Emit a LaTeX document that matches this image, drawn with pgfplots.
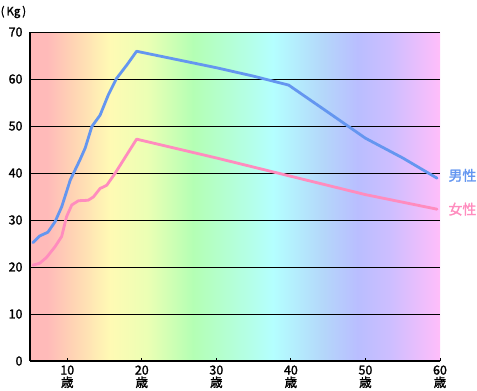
\documentclass[border=0pt]{standalone}
\usepackage{pgfplots}
\pgfplotsset{compat=1.18}
\usepackage{fontspec}
\setmainfont{Noto Sans CJK JP}[FakeBold=1.5]
\definecolor{maleblue}{RGB}{100,150,240}
\definecolor{femalepink}{RGB}{255,140,190}
\definecolor{c0}{RGB}{255,185,185}
\definecolor{c1}{RGB}{255,186,185}
\definecolor{c2}{RGB}{255,212,180}
\definecolor{c3}{RGB}{255,250,180}
\definecolor{c4}{RGB}{235,255,180}
\definecolor{c5}{RGB}{180,255,180}
\definecolor{c6}{RGB}{180,255,220}
\definecolor{c7}{RGB}{180,255,255}
\definecolor{c8}{RGB}{180,215,250}
\definecolor{c9}{RGB}{185,190,255}
\definecolor{c10}{RGB}{205,190,255}
\definecolor{c11}{RGB}{255,190,250}
\pgfdeclarehorizontalshading{rainbow}{100bp}{color(0bp)=(c0); color(25bp)=(c0); color(27.1bp)=(c1); color(30.3bp)=(c2); color(34.7bp)=(c3); color(39.3bp)=(c4); color(44.9bp)=(c5); color(50.3bp)=(c6); color(54.6bp)=(c7); color(60.7bp)=(c8); color(64.9bp)=(c9); color(68.9bp)=(c10); color(75bp)=(c11); color(100bp)=(c11)}
\begin{document}
\begin{tikzpicture}
\begin{axis}[
  scale only axis,
  width=410bp, height=329bp,
  xmin=5, xmax=60, ymin=0, ymax=70,
  axis background/.style={shading=rainbow},
  axis x line*=bottom, axis y line*=left,
  axis line style={line width=2.4bp, -},
  xtick={10,20,30,40,50,60},
  xticklabels={10\\歳,20\\歳,30\\歳,40\\歳,50\\歳,60\\歳},
  xticklabel style={align=center, font=\fontsize{12.5}{12.5}\selectfont, yshift=-1bp},
  ytick={0,10,20,30,40,50,60,70},
  yticklabel style={font=\fontsize{12.5}{13}\selectfont, xshift=-4bp},
  /pgf/number format/assume math mode=true,
  tick style={black, line width=1bp},
  major tick length=3bp,
  tick align=inside,
  ymajorgrids,
  grid style={black, line width=1bp},
  clip=false,
]
\addplot[maleblue, line width=2.8bp, line join=round, line cap=round] coordinates {
(5.4,25.2) (6.3,26.6) (7.4,27.4) (8.35,29.6) (9.25,32.8) (10.4,38.5) (11.7,42.8) (12.4,45.3) (13.3,49.9) (14.4,52.3) (15.5,56.6) (16.6,60.1) (18,63) (19.3,65.9) (30,62.4) (35,60.6) (39.7,58.7) (45,52.9) (50,47.4) (55,43.2) (59.6,38.9)
};
\addplot[femalepink, line width=2.8bp, line join=round, line cap=round] coordinates {
(5.4,20.4) (6.3,20.8) (7.2,22.0) (8.35,24.3) (9.25,26.5) (9.9,30.7) (10.6,33.2) (11.5,34.1) (12.8,34.2) (13.5,34.9) (14.4,36.7) (15.3,37.4) (16.4,39.9) (19.3,47.2) (30,43.2) (40,39.3) (50,35.4) (59.6,32.3)
};
\node[anchor=west, text=maleblue, font=\fontsize{14}{15}\selectfont] at (axis cs:60,39.5) [xshift=5bp] {男性};
\node[anchor=west, text=femalepink, font=\fontsize{14}{15}\selectfont] at (axis cs:60,32.3) [xshift=5bp] {女性};
\node[font=\fontsize{11.5}{12}\selectfont, inner sep=0pt, anchor=west] at (rel axis cs:0,1) [xshift=-29.5bp, yshift=20bp] {(\,Kg\,)};
\coordinate (ll) at (rel axis cs:0,0);
\coordinate (ur) at (rel axis cs:1,1);
\end{axis}
\pgfresetboundingbox
\path ([shift={(-30bp,-30bp)}]ll) rectangle ([shift={(37bp,32bp)}]ur);
\end{tikzpicture}
\end{document}
